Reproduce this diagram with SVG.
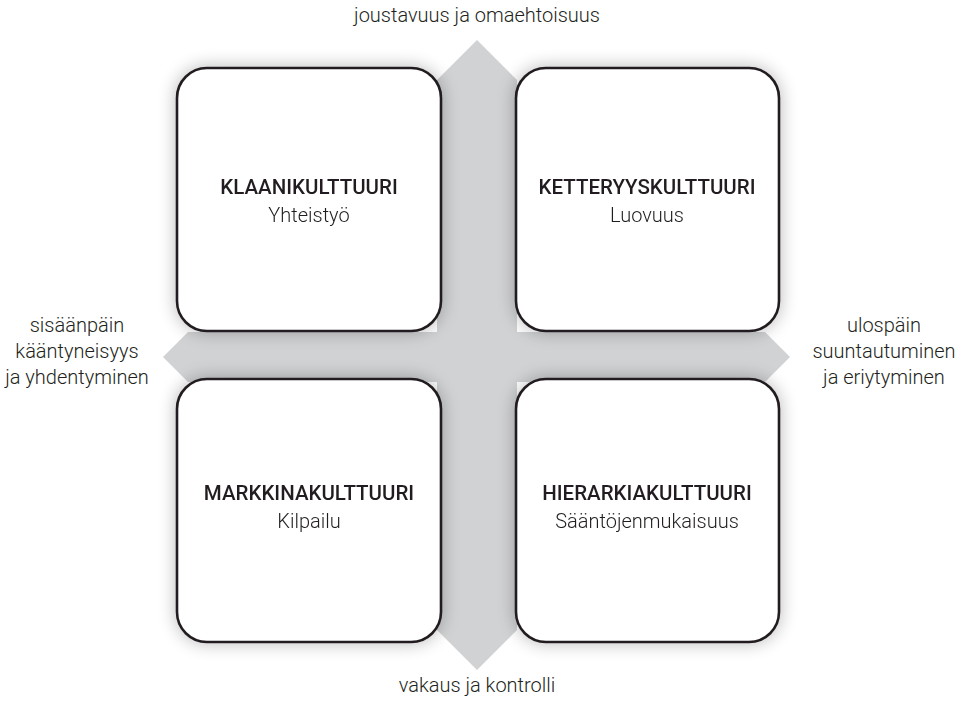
<svg xmlns="http://www.w3.org/2000/svg" width="956" height="706" viewBox="0 0 956 706">
<defs>
<filter id="sh" x="-20%" y="-20%" width="140%" height="140%">
<feGaussianBlur in="SourceAlpha" stdDeviation="9"/>
<feComponentTransfer><feFuncA type="linear" slope="0.28"/></feComponentTransfer>
<feMerge><feMergeNode/><feMergeNode in="SourceGraphic"/></feMerge>
</filter>
</defs>
<style>
.box{fill:#fff;stroke:#231f20;stroke-width:2.6}
.t{font-family:Roboto,"Liberation Sans",sans-serif;fill:#231f20;text-anchor:middle}
.h{font-size:20.5px;font-weight:500}
.s{font-size:20px;font-weight:300}
.l{font-size:20px;font-weight:300}
</style>
<rect width="956" height="706" fill="#fff"/>
<g id="connectors">
<polygon fill="#d1d2d4" points="477,40 517,80 517,332 765,332 790,357 765,382 517,382 517,630 477,670 437,630 437,382 188,382 163,357 188,332 437,332 437,80"/>
</g>
<g id="klaani" filter="url(#sh)">
<rect class="box" x="177" y="68" width="264" height="263" rx="30"/>
<text class="t h" x="309" y="194">KLAANIKULTTUURI</text>
<text class="t s" x="309" y="222">Yhteistyö</text>
</g>
<g id="ketteryys" filter="url(#sh)">
<rect class="box" x="516" y="68" width="263" height="263" rx="30"/>
<text class="t h" x="647" y="194">KETTERYYSKULTTUURI</text>
<text class="t s" x="647" y="222">Luovuus</text>
</g>
<g id="markkina" filter="url(#sh)">
<rect class="box" x="177" y="379" width="264" height="263" rx="30"/>
<text class="t h" x="309" y="500">MARKKINAKULTTUURI</text>
<text class="t s" x="309" y="528">Kilpailu</text>
</g>
<g id="hierarkia" filter="url(#sh)">
<rect class="box" x="516" y="379" width="263" height="263" rx="30"/>
<text class="t h" x="647" y="500">HIERARKIAKULTTUURI</text>
<text class="t s" x="647" y="528">Sääntöjenmukaisuus</text>
</g>
<g id="labels">
<text class="t l" x="477" y="22">joustavuus ja omaehtoisuus</text>
<text class="t l" x="477" y="692">vakaus ja kontrolli</text>
<text class="t l" x="77" y="332">sisäänpäin</text>
<text class="t l" x="77" y="358">kääntyneisyys</text>
<text class="t l" x="77" y="384">ja yhdentyminen</text>
<text class="t l" x="884" y="332">ulospäin</text>
<text class="t l" x="884" y="358">suuntautuminen</text>
<text class="t l" x="884" y="384">ja eriytyminen</text>
</g>
</svg>
